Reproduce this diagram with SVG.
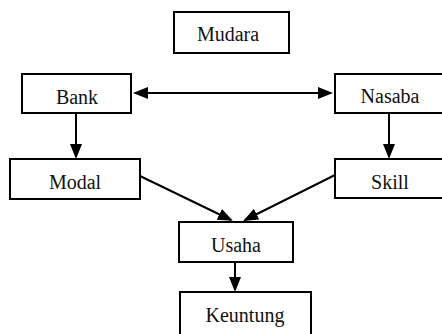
<svg xmlns="http://www.w3.org/2000/svg" width="442" height="334" viewBox="0 0 442 334">
<defs>
<style>
.box{fill:#fff;stroke:#000;stroke-width:2}
.lbl{font-family:"Liberation Serif","Times New Roman",serif;font-size:20px;fill:#111;text-anchor:middle}
.ln{stroke:#000;stroke-width:2;fill:none}
</style>
<marker id="ah" markerUnits="userSpaceOnUse" markerWidth="16" markerHeight="14" refX="13" refY="6" orient="auto-start-reverse">
<path d="M0,0 L15,6 L0,12 z" fill="#000"/>
</marker>
</defs>
<rect width="442" height="334" fill="#fff"/>
<g id="connectors">
<line class="ln" x1="135" y1="93" x2="331" y2="93" marker-start="url(#ah)" marker-end="url(#ah)"/>
<line class="ln" x1="76" y1="114" x2="76" y2="157" marker-end="url(#ah)"/>
<line class="ln" x1="389" y1="114" x2="389" y2="157" marker-end="url(#ah)"/>
<line class="ln" x1="140" y1="176" x2="231" y2="220" marker-end="url(#ah)"/>
<line class="ln" x1="335" y1="175" x2="245" y2="220" marker-end="url(#ah)"/>
<line class="ln" x1="235" y1="262" x2="235" y2="290" marker-end="url(#ah)"/>
</g>
<g id="mudara"><rect class="box" x="174" y="12" width="115" height="41"/><text class="lbl" x="228" y="41">Mudara</text></g>
<g id="bank"><rect class="box" x="22" y="74" width="109" height="39"/><text class="lbl" x="77" y="104">Bank</text></g>
<g id="nasaba"><rect class="box" x="335" y="74" width="110" height="39"/><text class="lbl" x="390" y="103">Nasaba</text></g>
<g id="modal"><rect class="box" x="10" y="159" width="130" height="40"/><text class="lbl" x="75" y="189">Modal</text></g>
<g id="skill"><rect class="box" x="335" y="159" width="110" height="39"/><text class="lbl" x="390" y="189">Skill</text></g>
<g id="usaha"><rect class="box" x="179" y="222" width="114" height="40"/><text class="lbl" x="236" y="252">Usaha</text></g>
<g id="keuntung"><rect class="box" x="180" y="292" width="131" height="45"/><text class="lbl" x="245" y="322">Keuntung</text></g>
</svg>
